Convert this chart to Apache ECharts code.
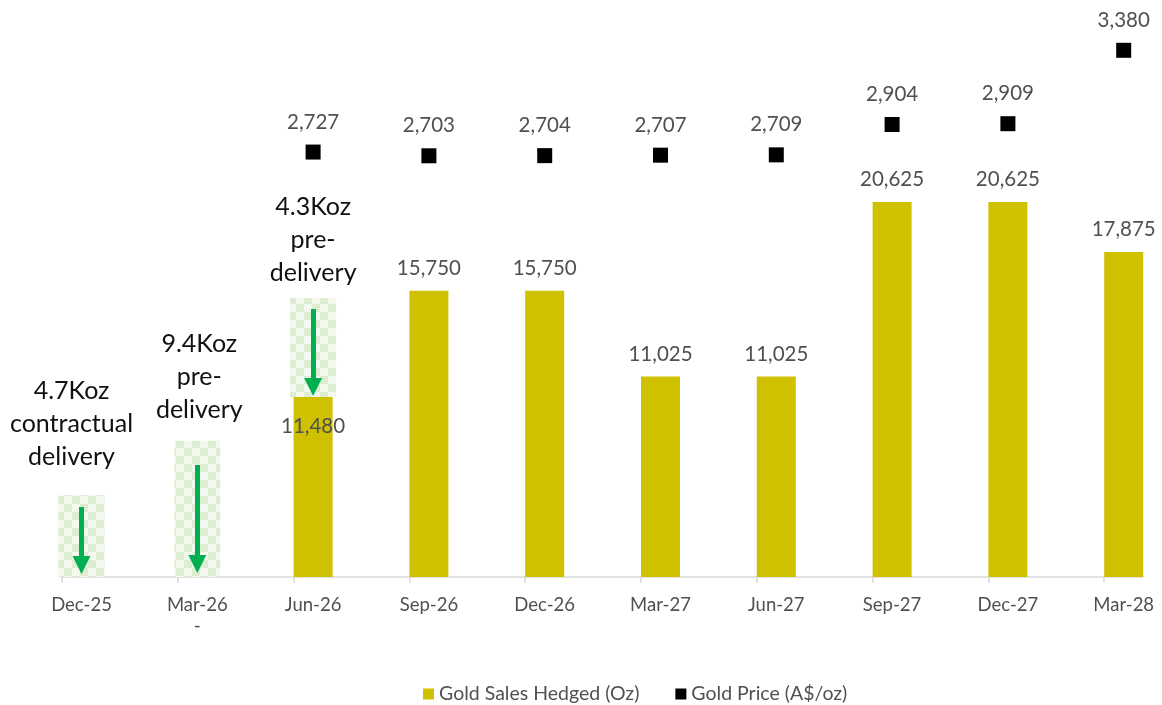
<!DOCTYPE html>
<html>
<head>
<meta charset="utf-8">
<script src="https://cdn.jsdelivr.net/npm/echarts@6/dist/echarts.min.js"></script>
<style>html,body{margin:0;padding:0;background:#fff;}#c{width:1162px;height:705px;}</style>
</head>
<body>
<div id="c"></div>
<script>
const categories = ['Dec-25','Mar-26','Jun-26','Sep-26','Dec-26','Mar-27','Jun-27','Sep-27','Dec-27','Mar-28'];
const goldSalesHedged = [null, null, 11480, 15750, 15750, 11025, 11025, 20625, 20625, 17875];
const goldPrice = [null, null, 2727, 2703, 2704, 2707, 2709, 2904, 2909, 3380];
const deliveryBase = [0, 0, 9900, null, null, null, null, null, null, null];
const deliveryBox = [4500, 7500, 5450, null, null, null, null, null, null, null];
const deliveryText = ['4.7Koz\ncontractual\ndelivery', '9.4Koz\npre-\ndelivery', '4.3Koz\npre-\ndelivery'];
const arrowFrom = [3850, 6160, 14740];
const arrowTo = [660, 715, 10450];

const FONT = 'Lato, "Noto Sans", sans-serif';
const GRAY = '#505050';
const fmt = v => (v == null ? '' : Number(v).toLocaleString('en-US'));

const labelDist = [22, 14, 8];
const labelOff = [[-10, 0], [2, 0], [0, 0]];

const boxData = deliveryBox.map((v, i) => v == null ? null : ({
  value: v,
  label: { distance: labelDist[i], offset: labelOff[i] }
}));

const goldData = goldSalesHedged.map((v, i) => (i === 2 ? {
  value: v,
  label: { position: 'insideTop', distance: 48 }
} : v));

const arrows = arrowFrom.map((f, i) => [
  { coord: [categories[i], f] },
  { coord: [categories[i], arrowTo[i]] }
]);

const gTop = 31.6, gBottom = 128;
const hiddenLine = { show: false, lineStyle: { color: 'rgba(0,0,0,0)', width: 0, opacity: 0 } };
const option = {
  animation: false,
  textStyle: { fontFamily: FONT },
  grid: [
    { left: 81.5, right: 38.3, top: gTop, bottom: gBottom },
    { left: 62, right: 57.8, top: gTop, bottom: gBottom },
    { left: 62, right: 19, top: gTop, bottom: gBottom }
  ],
  xAxis: [
    { type: 'category', gridIndex: 0, data: categories, boundaryGap: false,
      axisLine: hiddenLine, axisTick: { show: false },
      axisLabel: { interval: 0, color: GRAY, fontSize: 18.5, margin: 18, fontFamily: FONT, lineHeight: 21,
        formatter: v => v === 'Mar-26' ? v + '\n-' : v } },
    { type: 'category', gridIndex: 0, data: categories, boundaryGap: false, show: false,
      axisLine: hiddenLine, axisTick: { show: false }, axisLabel: { show: false } },
    { type: 'category', gridIndex: 1, data: categories, boundaryGap: false,
      axisLine: hiddenLine,
      axisTick: { show: true, interval: 0, length: 6, lineStyle: { color: '#d9d9d9', width: 1.5 } },
      axisLabel: { show: false } },
    { type: 'value', gridIndex: 2, min: 0, max: 1,
      axisLine: { show: true, onZero: false, lineStyle: { color: '#d9d9d9', width: 1.5 } },
      axisTick: { show: false }, axisLabel: { show: false }, splitLine: { show: false } }
  ],
  yAxis: [
    { type: 'value', gridIndex: 0, min: 0, max: 30000, show: false, splitLine: { show: false } },
    { type: 'value', gridIndex: 0, min: 0, max: 3500, show: false, splitLine: { show: false } },
    { type: 'value', gridIndex: 1, min: 0, max: 1, show: false, splitLine: { show: false } },
    { type: 'value', gridIndex: 2, min: 0, max: 1, show: false, splitLine: { show: false } }
  ],
  legend: {
    data: ['Gold Sales Hedged (Oz)', 'Gold Price (A$/oz)'],
    left: 418, top: 679, icon: 'rect', itemWidth: 11, itemHeight: 11, itemGap: 36,
    textStyle: { color: GRAY, fontSize: 19.5, fontFamily: FONT }
  },
  series: [
    { name: 'Gold Sales Hedged (Oz)', type: 'bar', xAxisIndex: 0, yAxisIndex: 0,
      data: goldData, barWidth: 39, z: 2,
      itemStyle: { color: '#cfc000' },
      label: { show: true, position: 'top', distance: 12, color: GRAY, fontSize: 20.5, fontFamily: FONT,
        formatter: p => fmt(p.value) } },
    { name: 'deliveryBase', type: 'bar', xAxisIndex: 1, yAxisIndex: 0, stack: 'delivery',
      data: deliveryBase, barWidth: 46, z: 3, silent: true,
      itemStyle: { color: 'rgba(0,0,0,0)' } },
    { name: 'delivery', type: 'bar', xAxisIndex: 1, yAxisIndex: 0, stack: 'delivery',
      data: boxData, barWidth: 46, z: 3,
      itemStyle: { color: '#f3f9ef',
        decal: { symbol: 'rect', symbolSize: 1, color: '#dcedd1',
          dashArrayX: [[8, 8], [0, 8, 8, 0]], dashArrayY: [8, 0] } },
      label: { show: true, position: 'top', color: '#111', fontSize: 25, lineHeight: 33, fontFamily: FONT,
        align: 'center', formatter: p => deliveryText[p.dataIndex] },
      markLine: {
        silent: true, symbol: ['none', 'triangle'], symbolSize: [18, 18],
        label: { show: false },
        lineStyle: { color: '#00b050', width: 5, type: 'solid', opacity: 1 },
        itemStyle: { color: '#00b050' },
        emphasis: { disabled: true },
        data: arrows
      } },
    { name: 'Gold Price (A$/oz)', type: 'scatter', xAxisIndex: 0, yAxisIndex: 1,
      data: goldPrice, symbol: 'rect', symbolSize: 15, z: 4,
      itemStyle: { color: '#000', opacity: 1 },
      label: { show: true, position: 'top', distance: 12, color: GRAY, fontSize: 20.5, fontFamily: FONT,
        formatter: p => fmt(p.value) } }
  ]
};
const chart = echarts.init(document.getElementById('c'), null, { renderer: 'canvas' });
chart.setOption(option);
</script>
</body>
</html>
